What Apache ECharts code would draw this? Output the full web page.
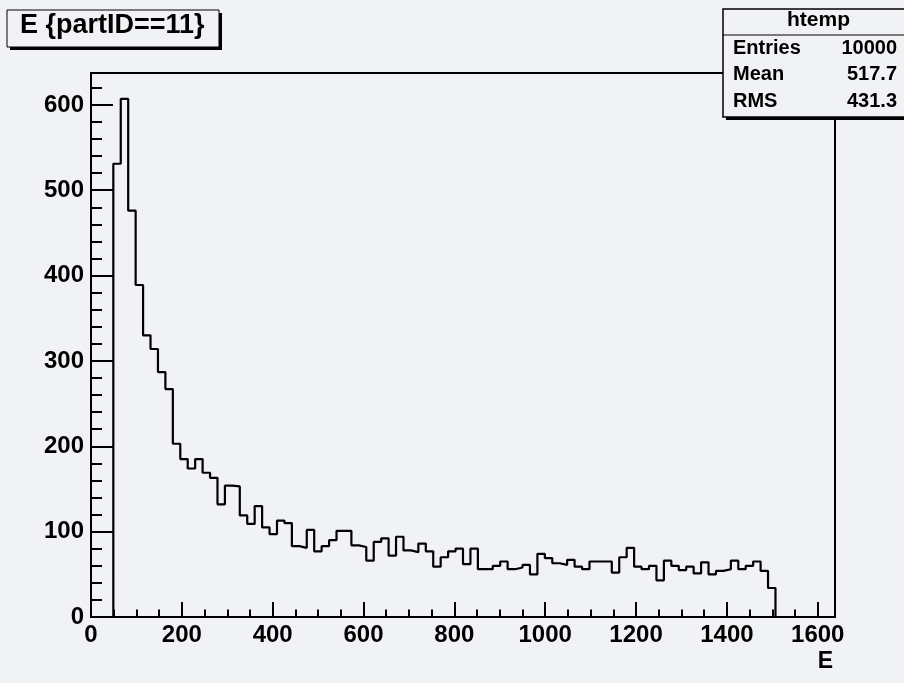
<!DOCTYPE html>
<html>
<head>
<meta charset="utf-8">
<script src="https://cdn.jsdelivr.net/npm/echarts@6/dist/echarts.min.js"></script>
<style>
html,body{margin:0;padding:0;background:#f1f2f5;}
#chart{width:904px;height:683px;}
</style>
</head>
<body>
<div id="chart"></div>
<script>
// Histogram definition (ROOT htemp): 100 bins from xMin to xMax
const binCount = 100;
const xMin = 0;
const xMax = 1638;
const yMax = 637.35;
const counts = [
  0, 0, 0, 531, 607, 476, 389, 330, 314, 287,
  267, 203, 185, 174, 185, 169, 163, 132, 154, 153,
  119, 109, 130, 105, 97, 113, 110, 83, 81, 102,
  77, 83, 90, 101, 101, 84, 82, 66, 88, 92,
  72, 94, 78, 76, 86, 77, 59, 70, 77, 80,
  62, 80, 56, 56, 60, 65, 56, 58, 61, 50,
  74, 69, 63, 61, 67, 59, 56, 65, 65, 65,
  52, 70, 81, 59, 56, 60, 43, 66, 60, 55,
  59, 51, 64, 50, 54, 56, 66, 56, 60, 65,
  54, 34, 0, 0, 0, 0, 0, 0, 0, 0
];
const titleText = 'E {partID==11}';
const statsName = 'htemp';
const statsLabels = ['Entries', 'Mean', 'RMS'];
const statsValues = ['10000', '517.7', '431.3'];
const xTitle = 'E';

const binWidth = (xMax - xMin) / binCount;
const stepData = counts.map((c, i) => [xMin + i * binWidth, c]);
stepData.push([xMax, counts[counts.length - 1]]);

const BG = '#f1f2f5';
const FONT = '"Liberation Sans", Arial, Helvetica, sans-serif';

const chart = echarts.init(document.getElementById('chart'), null, {renderer: 'canvas'});

const statsRows = [];
const rowCenters = [50, 76, 103.5];
statsLabels.forEach((lab, i) => {
  statsRows.push({type: 'text', left: 733, top: rowCenters[i] - 12, style: {text: lab, font: 'bold 20px ' + FONT, fill: '#000', textAlign: 'left', textVerticalAlign: 'top'}});
  statsRows.push({type: 'text', right: 7, top: rowCenters[i] - 12, style: {text: statsValues[i], font: 'bold 20px ' + FONT, fill: '#000', textAlign: 'right', textVerticalAlign: 'top'}});
});

const plainFmt = v => String(v);

chart.setOption({
  animation: false,
  backgroundColor: BG,
  grid: {
    left: 91, right: 69, top: 73, bottom: 66,
    show: true, backgroundColor: BG, borderColor: '#000', borderWidth: 2,
    containLabel: false
  },
  xAxis: {
    type: 'value', min: xMin, max: xMax, interval: 200,
    axisLine: {show: true, onZero: false, lineStyle: {color: '#000', width: 2}},
    axisTick: {show: true, inside: true, length: 15, lineStyle: {color: '#000', width: 2}},
    minorTick: {show: true, splitNumber: 4, length: 7.5, lineStyle: {color: '#000', width: 2}},
    axisLabel: {show: true, margin: 6, color: '#000', fontSize: 24, fontWeight: 'bold', fontFamily: FONT, showMaxLabel: false, formatter: plainFmt},
    splitLine: {show: false}
  },
  yAxis: {
    type: 'value', min: 0, max: yMax, interval: 100,
    axisLine: {show: true, lineStyle: {color: '#000', width: 2}},
    axisTick: {show: true, inside: true, length: 22, lineStyle: {color: '#000', width: 2}},
    minorTick: {show: true, splitNumber: 5, length: 11, lineStyle: {color: '#000', width: 2}},
    axisLabel: {show: true, margin: 7, color: '#000', fontSize: 24, fontWeight: 'bold', fontFamily: FONT, showMaxLabel: false, formatter: plainFmt},
    splitLine: {show: false}
  },
  series: [{
    type: 'line',
    step: 'end',
    data: stepData,
    symbol: 'none',
    clip: true,
    lineStyle: {color: '#000', width: 2.2}
  }],
  graphic: [
    {type: 'rect', shape: {x: 10, y: 13, width: 212, height: 37}, style: {fill: '#000'}},
    {type: 'rect', shape: {x: 7, y: 10, width: 212, height: 37}, style: {fill: BG, stroke: '#000', lineWidth: 1}},
    {type: 'text', left: 20, top: 12, style: {text: titleText, font: 'bold 27px ' + FONT, fill: '#000'}},
    {type: 'rect', shape: {x: 726, y: 12, width: 182, height: 108}, style: {fill: '#000'}},
    {type: 'rect', shape: {x: 723, y: 9, width: 182, height: 108}, style: {fill: BG, stroke: '#000', lineWidth: 1.5}},
    {type: 'line', shape: {x1: 723, y1: 35, x2: 904, y2: 35}, style: {stroke: '#000', lineWidth: 1}},
    {type: 'text', left: 787, top: 10, style: {text: statsName, font: 'bold 21px ' + FONT, fill: '#000'}},
    ...statsRows,
    {type: 'text', right: 71, top: 650, style: {text: xTitle, font: 'bold 23px ' + FONT, fill: '#000'}}
  ]
});
</script>
</body>
</html>
